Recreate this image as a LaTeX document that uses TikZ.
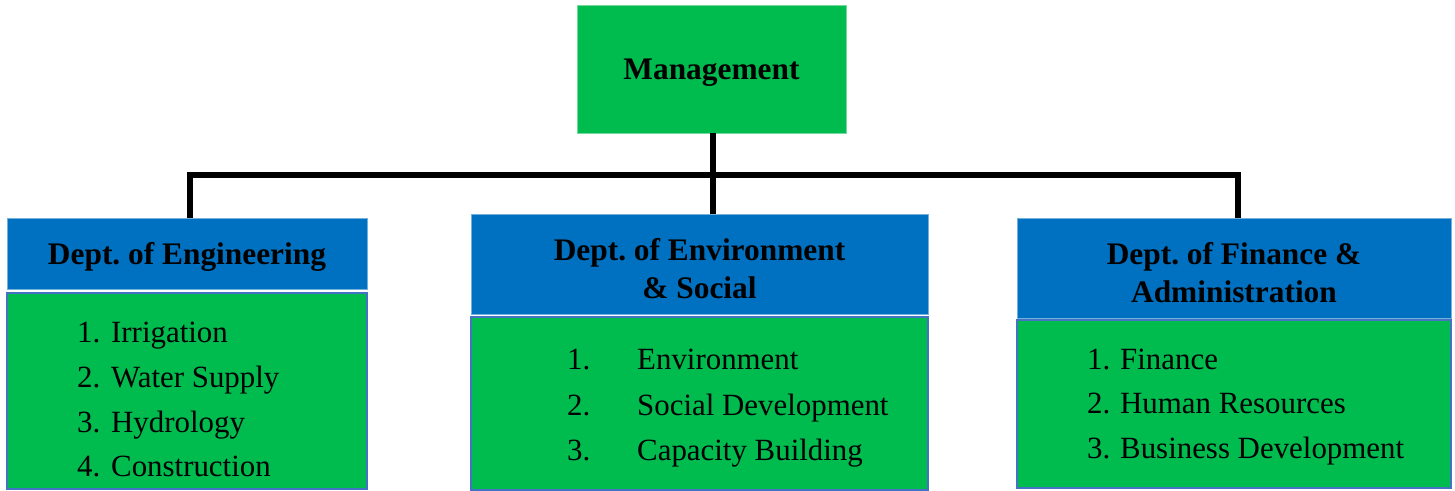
\documentclass[tikz,border=0pt]{standalone}
\usepackage{fontspec}
\setmainfont{Liberation Serif}
\frenchspacing
\definecolor{mgreen}{RGB}{0,187,77}
\definecolor{mblue}{RGB}{0,112,192}
\definecolor{oline}{RGB}{68,114,196}
\begin{document}
\begin{tikzpicture}[x=1bp,y=-1bp,
  greenbox/.style={fill=mgreen, draw=oline, line width=1.5bp, inner sep=0pt, outer sep=0pt},
  topbox/.style={fill=mgreen, draw=mgreen!55!white, line width=0.8bp, inner sep=0pt, outer sep=0pt},
  bluebox/.style={fill=mblue, draw=mblue!55!white, line width=0.8bp, inner sep=0pt, outer sep=0pt},
  hdr/.style={font=\fontsize{31.5}{38}\bfseries\selectfont, align=center, text=black, text depth=0pt},
  item/.style={font=\fontsize{31}{36}\selectfont, anchor=base west, inner sep=0pt, text=black},
  conn/.style={line width=5.5bp, black}]
\useasboundingbox (0,0) rectangle (1455,491);
% boxes
\node[topbox, minimum width=269bp, minimum height=128bp, hdr] (mgmt) at (711.5,69) {Management};
\node[bluebox, minimum width=360bp, minimum height=71bp, hdr] (engh) at (187,253.5) {Dept.\ of Engineering};
\node[greenbox, minimum width=360bp, minimum height=196bp] (engl) at (187,391) {};
\node[bluebox, minimum width=457bp, minimum height=100bp] (envh) at (699.5,264) {};
\node[hdr] (envt) at (699.5,268.5) {Dept.\ of Environment\\ \& Social};
\node[greenbox, minimum width=457bp, minimum height=173bp] (envl) at (699.5,403.5) {};
\node[bluebox, minimum width=434bp, minimum height=100bp] (finh) at (1234,268) {};
\node[hdr] (fint) at (1234,272.5) {Dept.\ of Finance \&\\ Administration};
\node[greenbox, minimum width=434bp, minimum height=168bp] (finl) at (1234,404) {};
% connectors
\coordinate (bus) at (713,175);
\draw[conn] ([xshift=1.5bp]mgmt.south) -- ([xshift=1.5bp]mgmt.south |- envh.north);
\draw[conn] ([xshift=3bp]engh.north) |- (bus) -| ([xshift=4bp]finh.north);
% lists
\node[item] (e1) at (77,342) {\makebox[34bp][l]{1.}Irrigation};
\node[item] (e2) at (77,387) {\makebox[34bp][l]{2.}Water Supply};
\node[item] (e3) at (77,432) {\makebox[34bp][l]{3.}Hydrology};
\node[item] (e4) at (77,476) {\makebox[34bp][l]{4.}Construction};
\node[item] (s1) at (567,369) {\makebox[70bp][l]{1.}Environment};
\node[item] (s2) at (567,415) {\makebox[70bp][l]{2.}Social Development};
\node[item] (s3) at (567,460) {\makebox[70bp][l]{3.}Capacity Building};
\node[item] (f1) at (1087,369) {\makebox[33bp][l]{1.}Finance};
\node[item] (f2) at (1087,413) {\makebox[33bp][l]{2.}Human Resources};
\node[item] (f3) at (1087,458) {\makebox[33bp][l]{3.}Business Development};
\end{tikzpicture}
\end{document}
